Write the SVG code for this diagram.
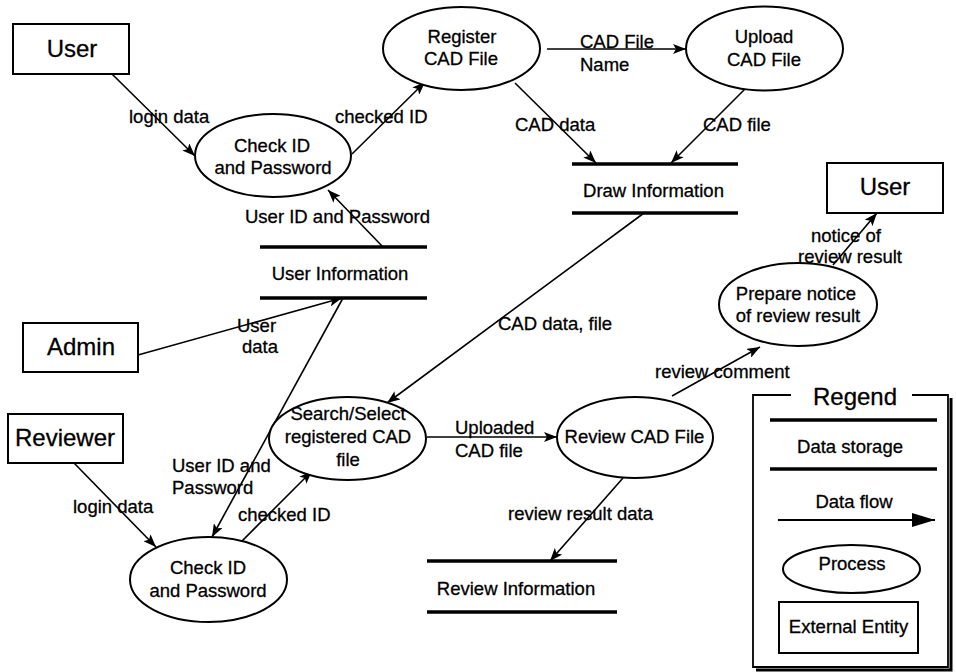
<svg xmlns="http://www.w3.org/2000/svg" width="956" height="672" viewBox="0 0 956 672">
<style>
text{font-family:"Liberation Sans",Arial,sans-serif;fill:#000;stroke:#000;stroke-width:0.3}
.n{font-size:18.5px;text-anchor:middle}
.l{font-size:18.5px}
.lc{font-size:18.5px;text-anchor:middle}
.e{font-size:24px;text-anchor:middle}
.box{fill:#fff;stroke:#000;stroke-width:2}
.proc{fill:#fff;stroke:#000;stroke-width:2}
.store{stroke:#000;stroke-width:3.5}
.flow{stroke:#000;stroke-width:1.6;fill:none;marker-end:url(#ah)}
</style>
<defs>
<marker id="ah" markerUnits="userSpaceOnUse" markerWidth="14" markerHeight="10" refX="13" refY="5" orient="auto">
<path d="M0,0 L13,5 L0,10 L3,5 Z" fill="#000"/>
</marker>
<marker id="ahbig" markerUnits="userSpaceOnUse" markerWidth="24" markerHeight="14" refX="23" refY="7" orient="auto">
<path d="M0,0 L23,7 L0,14 Z" fill="#000"/>
</marker>
</defs>
<rect width="956" height="672" fill="#fff"/>

<g id="connectors">
<line class="flow" x1="112" y1="74" x2="195" y2="156"/>
<text class="l" x="129" y="123">login data</text>
<line class="flow" x1="352" y1="154" x2="425" y2="82"/>
<text class="l" x="335" y="123">checked ID</text>
<line class="flow" x1="383" y1="247" x2="328" y2="190"/>
<text class="l" x="245" y="223">User ID and Password</text>
<line class="flow" x1="547" y1="49" x2="686" y2="49"/>
<text class="l" x="580" y="48">CAD File</text>
<text class="l" x="580" y="71">Name</text>
<line class="flow" x1="515" y1="83" x2="596" y2="163"/>
<text class="l" x="515" y="131">CAD data</text>
<line class="flow" x1="745" y1="89" x2="671" y2="163"/>
<text class="l" x="703" y="131">CAD file</text>
<line class="flow" x1="644" y1="213" x2="387" y2="403"/>
<text class="l" x="498" y="330">CAD data, file</text>
<line class="flow" x1="138" y1="355" x2="342" y2="298"/>
<text class="l" x="237" y="332">User</text>
<text class="l" x="242" y="353">data</text>
<line class="flow" x1="343" y1="298" x2="212" y2="537"/>
<text class="l" x="172" y="472">User ID and</text>
<text class="l" x="172" y="494">Password</text>
<line class="flow" x1="74" y1="463" x2="156" y2="547"/>
<text class="l" x="73" y="513">login data</text>
<line class="flow" x1="237" y1="546" x2="312" y2="471"/>
<text class="l" x="238" y="521">checked ID</text>
<line class="flow" x1="427" y1="437" x2="557" y2="437"/>
<text class="l" x="455" y="434">Uploaded</text>
<text class="l" x="455" y="457">CAD file</text>
<line class="flow" x1="672" y1="396" x2="760" y2="347"/>
<text class="l" x="655" y="378">review comment</text>
<line class="flow" x1="623" y1="478" x2="550" y2="561"/>
<text class="l" x="508" y="520">review result data</text>
<line class="flow" x1="833" y1="265" x2="877" y2="213"/>
<text class="lc" x="846" y="242">notice of</text>
<text class="lc" x="850" y="263">review result</text>
</g>

<g id="user1">
<rect class="box" x="13" y="24" width="116" height="50"/>
<text class="e" x="72" y="57">User</text>
</g>
<g id="admin">
<rect class="box" x="23" y="323" width="115" height="49"/>
<text class="e" x="81" y="355">Admin</text>
</g>
<g id="reviewer">
<rect class="box" x="8" y="414" width="115" height="49"/>
<text class="e" x="65" y="446">Reviewer</text>
</g>
<g id="user2">
<rect class="box" x="827" y="163" width="116" height="50"/>
<text class="e" x="885" y="195">User</text>
</g>

<g id="check1">
<ellipse class="proc" cx="273" cy="155.5" rx="78" ry="41.5"/>
<text class="n" x="272" y="152">Check ID</text>
<text class="n" x="273" y="174">and Password</text>
</g>
<g id="register">
<ellipse class="proc" cx="461.5" cy="48.5" rx="78.5" ry="41.5"/>
<text class="n" x="462" y="43">Register</text>
<text class="n" x="461" y="65">CAD File</text>
</g>
<g id="upload">
<ellipse class="proc" cx="764.5" cy="48.5" rx="78.5" ry="42"/>
<text class="n" x="764" y="43">Upload</text>
<text class="n" x="764" y="66">CAD File</text>
</g>
<g id="search">
<ellipse class="proc" cx="347.5" cy="438.5" rx="78.5" ry="41.5"/>
<text class="n" x="348" y="420">Search/Select</text>
<text class="n" x="348" y="443">registered CAD</text>
<text class="n" x="348" y="466">file</text>
</g>
<g id="check2">
<ellipse class="proc" cx="208.5" cy="579.5" rx="78.5" ry="42.5"/>
<text class="n" x="208" y="574">Check ID</text>
<text class="n" x="208" y="597">and Password</text>
</g>
<g id="review">
<ellipse class="proc" cx="635" cy="437.5" rx="78" ry="40.5"/>
<text class="n" x="634.5" y="443">Review CAD File</text>
</g>
<g id="prepare">
<ellipse class="proc" cx="798" cy="304.5" rx="79" ry="41.5"/>
<text class="n" x="796" y="300">Prepare notice</text>
<text class="n" x="798" y="322">of review result</text>
</g>

<g id="userinfo">
<line class="store" x1="260" y1="247" x2="427" y2="247"/>
<line class="store" x1="260" y1="298" x2="427" y2="298"/>
<text class="n" x="340" y="280">User Information</text>
</g>
<g id="drawinfo">
<line class="store" x1="572" y1="164" x2="738" y2="164"/>
<line class="store" x1="572" y1="213" x2="738" y2="213"/>
<text class="n" x="653.5" y="197">Draw Information</text>
</g>
<g id="reviewinfo">
<line class="store" x1="427" y1="561" x2="617" y2="561"/>
<line class="store" x1="427" y1="612" x2="617" y2="612"/>
<text class="n" x="516" y="595">Review Information</text>
</g>

<g id="legend">
<path d="M951,398 V670 H756" fill="none" stroke="#000" stroke-width="3"/>
<path d="M791,395 H753 V667 H948 V395 H912" fill="none" stroke="#000" stroke-width="1.8"/>
<text class="e" x="855" y="405">Regend</text>
<line class="store" x1="770" y1="420" x2="937" y2="420"/>
<line class="store" x1="770" y1="469" x2="937" y2="469"/>
<text class="n" x="850" y="453">Data storage</text>
<text class="n" x="854" y="508">Data flow</text>
<line x1="778" y1="520" x2="935" y2="520" stroke="#000" stroke-width="2" marker-end="url(#ahbig)"/>
<ellipse class="proc" cx="851.5" cy="569" rx="68.5" ry="24"/>
<text class="n" x="852" y="570">Process</text>
<rect class="box" x="779" y="602" width="139" height="51"/>
<text class="n" x="848.5" y="633">External Entity</text>
</g>
</svg>
